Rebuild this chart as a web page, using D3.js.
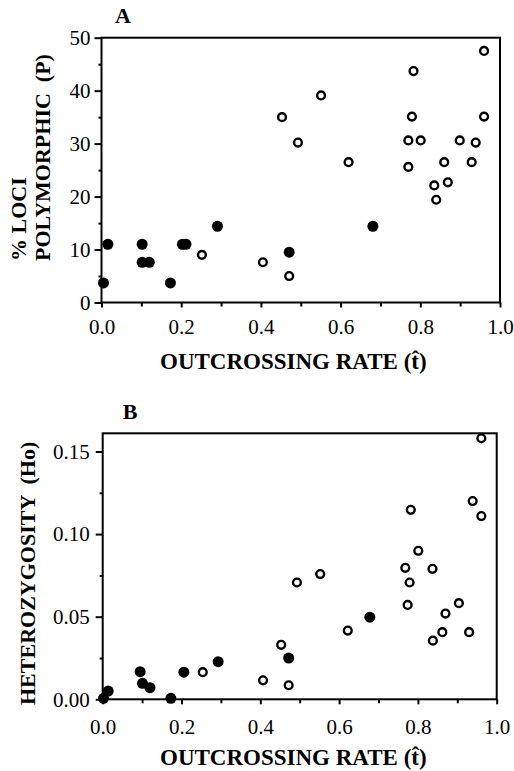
<!DOCTYPE html>
<html>
<head>
<meta charset="utf-8">
<script src="https://cdn.jsdelivr.net/npm/d3@7"></script>
<style>
  body { margin: 0; background: #fff; }
  svg text { font-family: "Liberation Serif", "Times New Roman", serif; fill: #000; }
</style>
</head>
<body>
<div id="chart"></div>
<script>
// panel A: outcrossing rate vs % loci polymorphic
const tOpenA = [0.252, 0.405, 0.471, 0.453, 0.493, 0.551, 0.620, 0.783, 0.779, 0.770, 0.801, 0.770, 0.860, 0.869, 0.835, 0.840, 0.899, 0.939, 0.929, 0.960, 0.960];
const pOpenA = [9.0, 7.6, 5.0, 35.0, 30.2, 39.1, 26.5, 43.7, 35.1, 30.6, 30.6, 25.6, 26.5, 22.7, 22.1, 19.4, 30.6, 30.2, 26.5, 47.5, 35.1];
const tFilledA = [0.005, 0.016, 0.102, 0.102, 0.120, 0.173, 0.203, 0.212, 0.291, 0.471, 0.681];
const pFilledA = [3.7, 11.0, 11.0, 7.6, 7.6, 3.7, 11.0, 11.0, 14.4, 9.5, 14.4];

// panel B: outcrossing rate vs heterozygosity
const tOpenB = [0.254, 0.407, 0.472, 0.453, 0.493, 0.552, 0.622, 0.782, 0.801, 0.768, 0.779, 0.774, 0.837, 0.904, 0.870, 0.862, 0.838, 0.930, 0.939, 0.961, 0.961];
const hOpenB = [0.0164, 0.0115, 0.0085, 0.033, 0.0707, 0.0758, 0.0416, 0.1147, 0.0899, 0.0796, 0.0707, 0.0571, 0.079, 0.0582, 0.0519, 0.0406, 0.0355, 0.0406, 0.120, 0.1109, 0.158];
const tFilledB = [0.002, 0.014, 0.095, 0.101, 0.120, 0.173, 0.206, 0.293, 0.472, 0.678];
const hFilledB = [0.0006, 0.005, 0.0167, 0.0097, 0.007, 0.0006, 0.0164, 0.0228, 0.025, 0.0497];

// tick values
const xMajor = [0, 0.2, 0.4, 0.6, 0.8, 1.0];
const xMinor = [0.1, 0.3, 0.5, 0.7, 0.9];
const yMajorA = [0, 10, 20, 30, 40, 50];
const yMinorA = [5, 15, 25, 35, 45];
const yMajorB = [0, 0.05, 0.10, 0.15];
const yMinorB = [0.025, 0.075, 0.125];

const svg = d3.select("#chart").append("svg")
    .attr("width", 514)
    .attr("height", 771);

function drawPanel(p) {
    const x = d3.scaleLinear().domain([0, 1]).range([p.left, p.right]);
    const y = d3.scaleLinear().domain(p.yDomain).range([p.bottom, p.top]);
    const g = svg.append("g");

    // frame
    g.append("rect")
        .attr("x", p.left).attr("y", p.top)
        .attr("width", p.right - p.left).attr("height", p.bottom - p.top)
        .attr("fill", "none").attr("stroke", "#000").attr("stroke-width", 2);

    // x axis
    g.append("g")
        .attr("transform", `translate(0,${p.bottom})`)
        .call(d3.axisBottom(x).tickValues(xMajor).tickSize(5).tickPadding(p.xPad).tickFormat(d3.format(".1f")));
    g.append("g")
        .attr("transform", `translate(0,${p.bottom})`)
        .call(d3.axisBottom(x).tickValues(xMinor).tickSize(4).tickFormat(""));

    // y axis
    g.append("g")
        .attr("transform", `translate(${p.left},0)`)
        .call(d3.axisLeft(y).tickValues(p.yMajor).tickSize(7).tickPadding(p.yPad).tickFormat(d3.format(p.yFmt)));
    g.append("g")
        .attr("transform", `translate(${p.left},0)`)
        .call(d3.axisLeft(y).tickValues(p.yMinor).tickSize(3).tickFormat(""));

    g.selectAll(".domain").remove();
    g.selectAll(".tick line").attr("stroke", "#000").attr("stroke-width", 2);
    g.selectAll(".tick text").attr("font-size", 21);

    // panel letter
    g.append("text")
        .attr("x", p.letterX).attr("y", p.letterY)
        .attr("text-anchor", "middle")
        .attr("font-size", 22).attr("font-weight", "bold")
        .text(p.letter);

    // x title
    g.append("text")
        .attr("x", p.titleX).attr("y", p.titleY)
        .attr("font-size", 23).attr("font-weight", "bold")
        .text("OUTCROSSING RATE (t\u0302)");

    // y title, one or two lines
    p.yLines.forEach(line => {
        g.append("text")
            .attr("transform", `translate(${line.x},${p.yTitleStart}) rotate(-90)`)
            .attr("font-size", 22).attr("font-weight", "bold")
            .attr("xml:space", "preserve")
            .text(line.text);
    });

    // filled points
    g.selectAll(".filled")
        .data(d3.zip(p.tFilled, p.vFilled))
        .join("circle")
        .attr("cx", d => x(d[0]))
        .attr("cy", d => y(d[1]))
        .attr("r", 5.5)
        .attr("fill", "#000");

    // open points
    g.selectAll(".open")
        .data(d3.zip(p.tOpen, p.vOpen))
        .join("circle")
        .attr("cx", d => x(d[0]))
        .attr("cy", d => y(d[1]))
        .attr("r", 3.9)
        .attr("fill", "#fff")
        .attr("stroke", "#000")
        .attr("stroke-width", 2.4);
}

drawPanel({
    left: 101.5, right: 500, top: 37.7, bottom: 302.5,
    yDomain: [0, 50], yMajor: yMajorA, yMinor: yMinorA, yFmt: "d",
    xPad: 12, yPad: 4,
    letter: "A", letterX: 123, letterY: 23,
    titleX: 160, titleY: 369,
    yTitleStart: 261,
    yLines: [{ x: 26, text: "% LOCI" }, { x: 50, text: "POLYMORPHIC  (P)" }],
    tOpen: tOpenA, vOpen: pOpenA, tFilled: tFilledA, vFilled: pFilledA
});

drawPanel({
    left: 102.7, right: 496.7, top: 433.3, bottom: 699.3,
    yDomain: [0, 0.161], yMajor: yMajorB, yMinor: yMinorB, yFmt: ".2f",
    xPad: 15, yPad: 6,
    letter: "B", letterX: 130, letterY: 419,
    titleX: 160, titleY: 765,
    yTitleStart: 705,
    yLines: [{ x: 35, text: "HETEROZYGOSITY  (Ho)" }],
    tOpen: tOpenB, vOpen: hOpenB, tFilled: tFilledB, vFilled: hFilledB
});
</script>
</body>
</html>
